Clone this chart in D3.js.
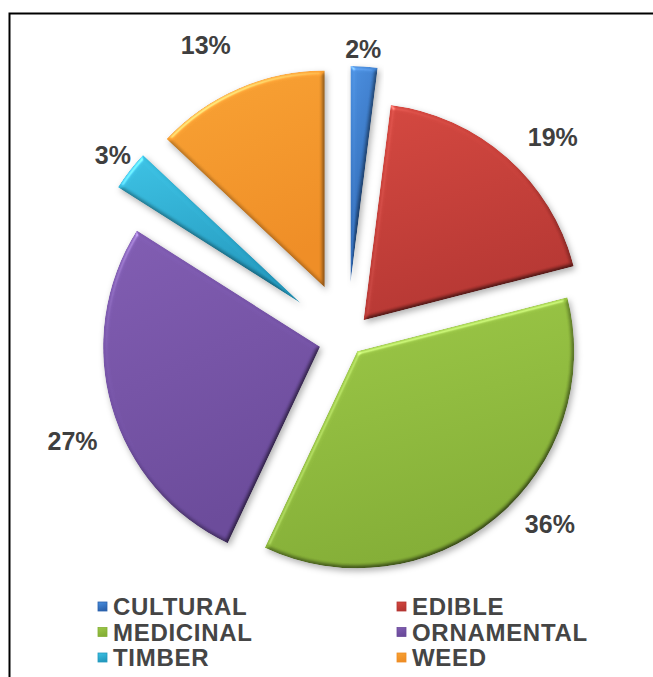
<!DOCTYPE html>
<html>
<head>
<meta charset="utf-8">
<script src="https://cdn.jsdelivr.net/npm/d3@7"></script>
<style>
  html, body { margin: 0; padding: 0; background: #fff; }
  svg { display: block; }
  .pct { font-family: "Liberation Sans", Arial, sans-serif; font-weight: bold; font-size: 25px; fill: #3f3f3f; }
  .leg { font-family: "Liberation Sans", Arial, sans-serif; font-weight: bold; font-size: 24px; fill: #454545; letter-spacing: 0.7px; }
</style>
</head>
<body>
<svg id="chart" width="653" height="677"></svg>
<script>
// Share of species by use category (percent), clockwise from 12 o'clock
const categories = ["CULTURAL", "EDIBLE", "MEDICINAL", "ORNAMENTAL", "TIMBER", "WEED"];
const shares = [2, 19, 36, 27, 3, 13];

// Slice colours: [top, bottom] of each slice's shading
const colours = [
  ["#4a8fdf", "#2b62ad"],
  ["#d4473f", "#b53632"],
  ["#9cc846", "#84ae36"],
  ["#805cb2", "#6a4a9a"],
  ["#3cc2e4", "#2399be"],
  ["#f8a233", "#ee8d25"]
];

// Layout
const W = 653, H = 677;
const centre = [347, 339];
const radius = 217;
const explode = [56, 25, 16, 28, 58, 56];       // how far each slice is pulled out
const labelRadius = 290;
const labelNudge = [[-2, 0], [14, 16], [18, -38], [4, 21], [-5, -6], [-26, -28]];

const svg = d3.select("#chart");
const defs = svg.append("defs");

// Soft bevel + drop shadow for the slices
const f = defs.append("filter").attr("id", "bevel")
  .attr("x", "-20%").attr("y", "-20%").attr("width", "140%").attr("height", "140%")
  .attr("color-interpolation-filters", "sRGB");
f.append("feGaussianBlur").attr("in", "SourceAlpha").attr("stdDeviation", 2).attr("result", "bump");
const diff = f.append("feDiffuseLighting").attr("in", "bump").attr("surfaceScale", 2.2)
  .attr("diffuseConstant", 1.55).attr("lighting-color", "#fff").attr("result", "diff");
diff.append("feDistantLight").attr("azimuth", 235).attr("elevation", 40);
f.append("feComposite").attr("in", "diff").attr("in2", "diff")
  .attr("operator", "arithmetic").attr("k1", 0).attr("k2", 0.6).attr("k3", 0).attr("k4", 0.4).attr("result", "diffSoft");
f.append("feComposite").attr("in", "SourceGraphic").attr("in2", "diffSoft")
  .attr("operator", "arithmetic").attr("k1", 1).attr("k2", 0).attr("k3", 0).attr("k4", 0).attr("result", "shaded");
const spec = f.append("feSpecularLighting").attr("in", "bump").attr("surfaceScale", 2.2)
  .attr("specularConstant", 0.3).attr("specularExponent", 35).attr("lighting-color", "#fff").attr("result", "spec");
spec.append("feDistantLight").attr("azimuth", 235).attr("elevation", 40);
f.append("feComposite").attr("in", "spec").attr("in2", "SourceAlpha").attr("operator", "in").attr("result", "specIn");
f.append("feComposite").attr("in", "shaded").attr("in2", "specIn")
  .attr("operator", "arithmetic").attr("k1", 0).attr("k2", 1).attr("k3", 1).attr("k4", 0).attr("result", "lit");
f.append("feComposite").attr("in", "lit").attr("in2", "SourceAlpha").attr("operator", "in").attr("result", "litIn");
f.append("feGaussianBlur").attr("in", "SourceAlpha").attr("stdDeviation", 3).attr("result", "sb");
f.append("feOffset").attr("in", "sb").attr("dx", 2).attr("dy", 3).attr("result", "so");
f.append("feFlood").attr("flood-color", "#000").attr("flood-opacity", 0.3).attr("result", "sc");
f.append("feComposite").attr("in", "sc").attr("in2", "so").attr("operator", "in").attr("result", "shadow");
const m = f.append("feMerge");
m.append("feMergeNode").attr("in", "shadow");
m.append("feMergeNode").attr("in", "litIn");

// Vertical shading per slice
colours.forEach((c, i) => {
  const g = defs.append("linearGradient").attr("id", "grad" + i)
    .attr("x1", 0).attr("y1", 0).attr("x2", 0.3).attr("y2", 1);
  g.append("stop").attr("offset", "0%").attr("stop-color", c[0]);
  g.append("stop").attr("offset", "100%").attr("stop-color", c[1]);
});

// Frame
svg.append("rect").attr("x", 9.5).attr("y", 13.5).attr("width", 800).attr("height", 800)
  .attr("fill", "none").attr("stroke", "#000").attr("stroke-width", 2);

// Exploded pie
const pie = d3.pie().sort(null).value(d => d);
const arcs = pie(shares);
const arc = d3.arc().innerRadius(0).outerRadius(radius);

const slices = svg.append("g");
arcs.forEach((a, i) => {
  const mid = (a.startAngle + a.endAngle) / 2;
  const ux = Math.sin(mid), uy = -Math.cos(mid);
  const ax = centre[0] + explode[i] * ux, ay = centre[1] + explode[i] * uy;
  slices.append("path")
    .attr("transform", `translate(${ax},${ay})`)
    .attr("d", arc(a))
    .attr("fill", `url(#grad${i})`)
    .attr("filter", "url(#bevel)");
});

// Percentage labels
arcs.forEach((a, i) => {
  const mid = (a.startAngle + a.endAngle) / 2;
  const x = centre[0] + labelRadius * Math.sin(mid) + labelNudge[i][0];
  const y = centre[1] - labelRadius * Math.cos(mid) + labelNudge[i][1];
  svg.append("text").attr("class", "pct")
    .attr("x", x).attr("y", y).attr("dy", "0.35em")
    .attr("text-anchor", "middle")
    .text(shares[i] + "%");
});

// Legend: two columns, three rows
const legendX = [98, 397];
const legendTop = 615, rowGap = 25.5, box = 9;
const legend = svg.append("g");
categories.forEach((name, i) => {
  const col = i % 2, row = Math.floor(i / 2);
  const x = legendX[col], base = legendTop + row * rowGap;
  legend.append("rect")
    .attr("x", x).attr("y", base - 8.5 - box / 2).attr("width", box).attr("height", box)
    .attr("fill", `url(#grad${i})`).attr("stroke", colours[i][1]).attr("stroke-width", 0.8);
  legend.append("text").attr("class", "leg")
    .attr("x", x + 15).attr("y", base)
    .text(name);
});
</script>
</body>
</html>
